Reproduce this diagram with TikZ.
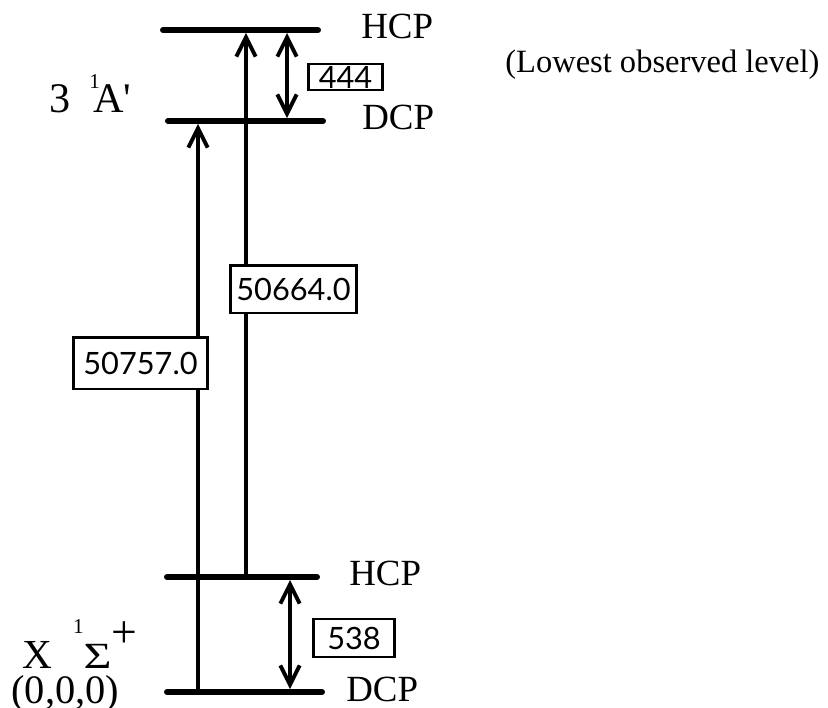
\documentclass[tikz,border=0pt]{standalone}
\usepackage{fontspec}
\setmainfont{Liberation Serif}
\newfontfamily\numfont{Lato}
\usetikzlibrary{arrows.meta}
\newdimen\pxu \pxu=0.567pt

\begin{document}
\begin{tikzpicture}[x=0.02cm, y=-0.02cm,
    level/.style={line width=3.4pt, line cap=round},
    barb/.style={-{Straight Barb[length=11pt,width=11pt,line width=2.2pt]}},
    trans/.style={line width=1.9pt, barb, shorten >=3\pxu},
    split/.style={line width=1.9pt, {Straight Barb[length=11pt,width=11pt,line width=2.2pt]}-{Straight Barb[length=11pt,width=11pt,line width=2.2pt]}, shorten >=3\pxu, shorten <=3\pxu},
    valbox/.style={draw, fill=white, line width=1.6pt, font=\numfont\fontsize{17.5}{17.5}\selectfont, inner xsep=0pt, inner ysep=0pt},
    lab/.style={font=\fontsize{21}{21}\selectfont, inner sep=0pt}]
    \useasboundingbox (0,0) rectangle (828,707);
    % levels
    \coordinate (hcpUL) at (163,30);  \coordinate (hcpUR) at (318,30);
    \coordinate (dcpUL) at (168,121); \coordinate (dcpUR) at (323,121);
    \coordinate (hcpLL) at (167,577); \coordinate (hcpLR) at (317,577);
    \coordinate (dcpLL) at (167,692); \coordinate (dcpLR) at (322,692);
    \draw[level] (hcpUL) -- (hcpUR);
    \draw[level] (dcpUL) -- (dcpUR);
    \draw[level] (hcpLL) -- (hcpLR);
    \draw[level] (dcpLL) -- (dcpLR);
    % transitions
    \coordinate (dcpLo) at (198,692); \coordinate (dcpUp) at (198,121);
    \coordinate (hcpLo) at (246,577); \coordinate (hcpUp) at (246,30);
    \draw[trans] (dcpLo) -- (dcpUp);
    \draw[trans] (hcpLo) -- (hcpUp);
    \coordinate (spUa) at (287,30);  \coordinate (spUb) at (287,121);
    \coordinate (spLa) at (290,577); \coordinate (spLb) at (290,692);
    \draw[split] (spUa) -- (spUb);
    \draw[split] (spLa) -- (spLb);
    % values
    \node[valbox, minimum width=135\pxu, minimum height=52\pxu] (valDCP) at (140.5,363) {50757.0};
    \node[valbox, minimum width=127\pxu, minimum height=48\pxu] (valHCP) at (293.5,289) {50664.0};
    \node[valbox, minimum width=75\pxu, text height=23\pxu, text depth=0pt, inner ysep=1.5\pxu] (valUp) at (345.5,77) {444};
    \node[valbox, minimum width=82\pxu, minimum height=38\pxu] (valLo) at (354,638) {538};
    % labels
    \node[lab, anchor=base west] (hcpUpLab) at (361,38) {HCP};
    \node[lab, anchor=base west] (dcpUpLab) at (362,129) {DCP};
    \node[lab, anchor=base west] (hcpLoLab) at (349,585) {HCP};
    \node[lab, anchor=base west] (dcpLoLab) at (346,701) {DCP};
    \node[lab, anchor=base west, font=\fontsize{18.5}{18.5}\selectfont] (lowLab) at (505,72) {(Lowest observed level)};
    \node[lab, anchor=base west, font=\fontsize{24}{24}\selectfont] (stateUp) at (49,112)
        {3\hspace{19\pxu}\rlap{\raisebox{24\pxu}{\fontsize{12}{12}\selectfont 1}}\hspace{4\pxu}A\textquotesingle};
    \node[lab, anchor=base west, font=\fontsize{23.5}{23.5}\selectfont] (stateLo) at (22,668)
        {X\hspace{21\pxu}\raisebox{35\pxu}{\fontsize{12}{12}\selectfont 1}\hspace{0\pxu}{\fontsize{21}{21}\selectfont\scalebox{1.3}[1]{Σ}}\raisebox{21\pxu}{\fontsize{26}{26}\selectfont +}};
    \node[lab, anchor=base west, font=\fontsize{23}{23}\selectfont] (vibLab) at (11,703) {(0,0,0)};
\end{tikzpicture}
\end{document}
